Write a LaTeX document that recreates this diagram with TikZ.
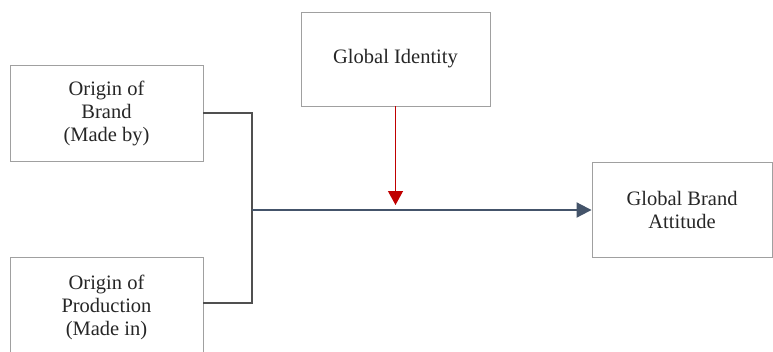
\documentclass[tikz,border=0pt]{standalone}
\usepackage{fontspec}
\setmainfont{Liberation Serif}
\usetikzlibrary{arrows.meta}
\definecolor{boxgray}{HTML}{A0A0A0}
\definecolor{linkgray}{HTML}{505050}
\definecolor{slate}{HTML}{44546A}
\definecolor{redarrow}{HTML}{C00000}
\begin{document}
\begin{tikzpicture}[x=1pt,y=-1pt,
  box/.style={draw=boxgray,line width=0.9pt,rectangle,inner sep=0pt,align=center,
    font=\fontsize{20.5}{23}\selectfont,text=black!85},
  link/.style={draw=linkgray,line width=1.1pt},
  mainarrow/.style={draw=slate,line width=2pt,-{Triangle[length=15pt,width=15pt]}},
  modarrow/.style={draw=redarrow,line width=1.2pt,-{Triangle[length=14pt,width=15pt]}}]
\clip (0,0) rectangle (773,351);
\node[box,minimum width=193pt,minimum height=96pt] (b1) at (106.5,113) {Origin of\\Brand\\(Made by)};
\node[box,minimum width=193pt,minimum height=100pt] (b2) at (106.5,307) {Origin of\\Production\\(Made in)};
\node[box,minimum width=189pt,minimum height=94pt] (gi) at (395.5,59) {Global Identity};
\node[box,minimum width=180pt,minimum height=95pt] (gba) at (682,209.5) {Global Brand\\Attitude};
\coordinate (j1) at (252,113);
\coordinate (j2) at (252,303);
\coordinate (jm) at (252,210);
\coordinate (mt) at (395.5,205);
\draw[link] (b1.east) -- (j1) -- (j2) -- (j2 -| b2.east);
\draw[mainarrow] (jm) -- (gba.west |- jm);
\draw[modarrow] (gi.south) -- (mt);
\end{tikzpicture}
\end{document}
